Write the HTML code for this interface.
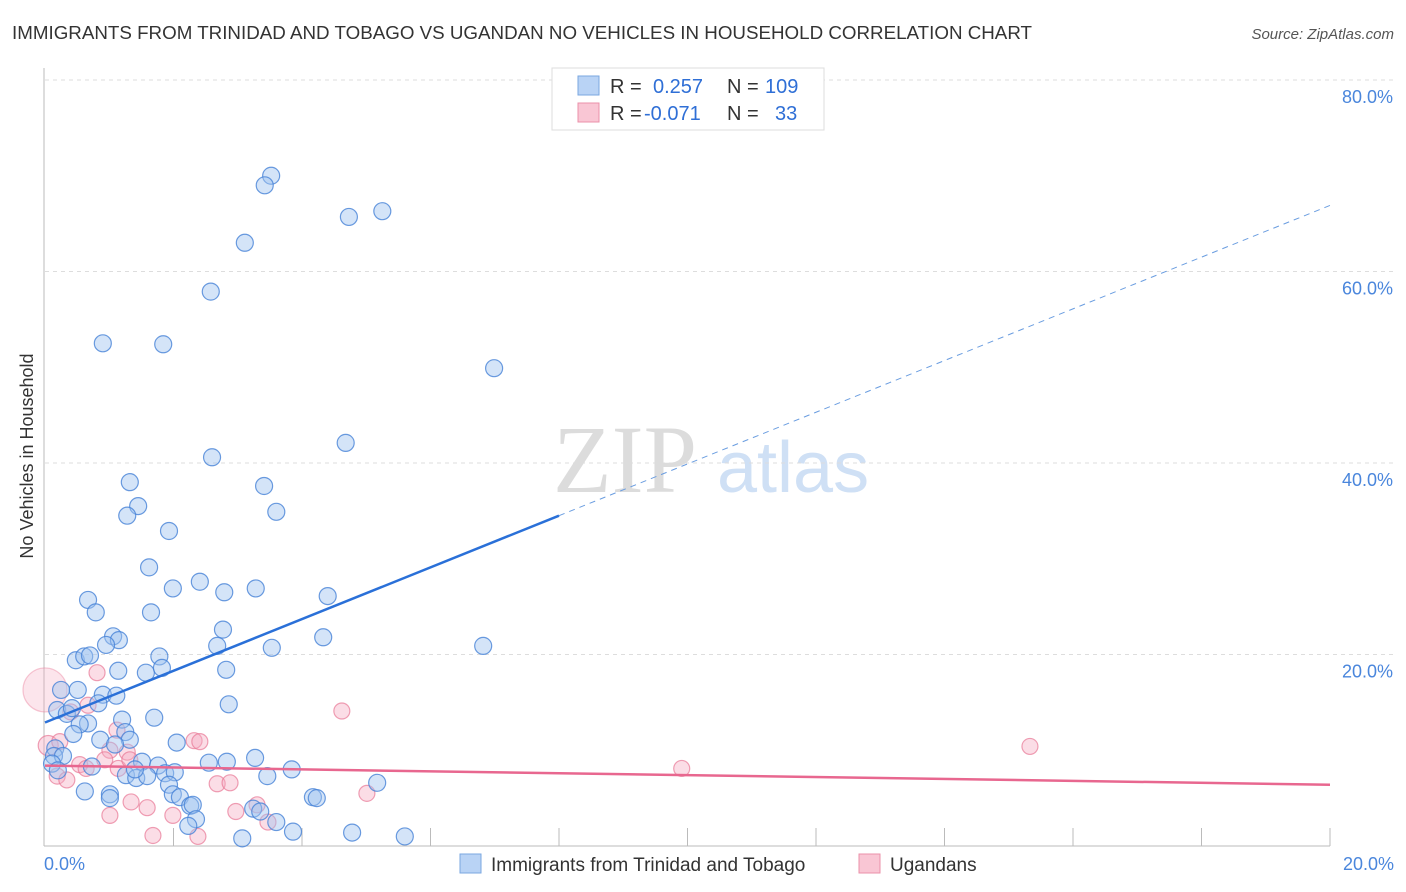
<!DOCTYPE html>
<html><head><meta charset="utf-8">
<style>
body{margin:0;background:#fff;font-family:"Liberation Sans",sans-serif;}
svg{display:block}
</style></head>
<body>
<svg id="chart" width="1406" height="892" viewBox="0 0 1406 892">
<text x="12" y="39" font-size="18" fill="#333" textLength="1020" lengthAdjust="spacingAndGlyphs">IMMIGRANTS FROM TRINIDAD AND TOBAGO VS UGANDAN NO VEHICLES IN HOUSEHOLD CORRELATION CHART</text>
<text x="1394" y="39" font-size="15" fill="#555" font-style="italic" text-anchor="end">Source: ZipAtlas.com</text>
<text transform="translate(33,456) rotate(-90)" font-size="18" fill="#333" text-anchor="middle">No Vehicles in Household</text>
<g>
<text x="553" y="492" font-size="96" font-family="Liberation Serif,serif" fill="#dcdcdc">ZIP</text>
<text x="717" y="492" font-size="72" fill="#cfe0f5">atlas</text>
</g>
<g id="grid"></g>
<g id="axes"></g>
<g id="pts"></g>
<g id="lines"></g>
<g>
<rect x="552" y="68" width="272" height="62" fill="#fff" stroke="#ddd"/>
<rect x="578" y="76" width="21" height="19" fill="#b9d3f5" stroke="#7aa7e0"/>
<text x="610" y="93" font-size="20" fill="#333">R =</text>
<text x="653" y="93" font-size="20" fill="#2f6fd6">0.257</text>
<text x="727" y="93" font-size="20" fill="#333">N =</text>
<text x="765" y="93" font-size="20" fill="#2f6fd6">109</text>
<rect x="578" y="103" width="21" height="19" fill="#f9c6d4" stroke="#eb90aa"/>
<text x="610" y="120" font-size="20" fill="#333">R =</text>
<text x="644" y="120" font-size="20" fill="#2f6fd6">-0.071</text>
<text x="727" y="120" font-size="20" fill="#333">N =</text>
<text x="775" y="120" font-size="20" fill="#2f6fd6">33</text>
</g>
<g>
<rect x="460" y="854" width="21" height="19" fill="#b9d3f5" stroke="#7aa7e0"/>
<text x="491" y="871" font-size="19" fill="#333">Immigrants from Trinidad and Tobago</text>
<rect x="859" y="854" width="21" height="19" fill="#f9c6d4" stroke="#eb90aa"/>
<text x="890" y="871" font-size="19" fill="#333">Ugandans</text>
</g>
</svg>
<script>
const yTicks=[20,40,60,80];
const yTickLabels=["20.0%","40.0%","60.0%","80.0%"];
const xTicks=[2,4,6,8,10,12,14,16,18,20];
const blueX=[3.52,3.42,4.73,5.25,3.11,2.58,0.90,1.84,6.99,4.68,2.60,1.32,3.41,1.45,1.28,3.60,1.93,1.62,1.99,2.41,2.79,3.28,4.40,0.67,0.79,1.65,2.77,1.06,1.15,4.33,0.95,2.68,3.53,6.82,1.78,0.48,0.61,0.70,1.57,1.14,1.82,2.82,0.25,0.51,0.90,1.11,0.83,2.86,0.19,0.34,0.42,0.67,1.20,1.70,0.54,0.44,1.25,0.86,1.32,1.09,2.05,0.16,0.14,0.28,0.11,0.20,0.73,2.55,2.83,3.27,3.84,1.51,1.76,1.26,1.42,1.59,1.87,2.02,1.40,3.46,5.17,0.62,1.01,1.01,1.93,1.99,2.10,2.26,2.30,4.17,4.23,2.35,2.23,3.24,3.35,3.60,3.86,4.78,3.07,5.60];
const blueY=[70.0,69.0,65.7,66.3,63.0,57.9,52.5,52.4,49.9,42.1,40.6,38.0,37.6,35.5,34.5,34.9,32.9,29.1,26.9,27.6,26.5,26.9,26.1,25.7,24.4,24.4,22.6,21.9,21.5,21.8,21.0,20.9,20.7,20.9,19.8,19.4,19.8,19.9,18.1,18.3,18.6,18.4,16.3,16.3,15.8,15.7,14.9,14.8,14.2,13.8,14.4,12.8,13.2,13.4,12.7,11.7,11.9,11.1,11.1,10.6,10.8,10.2,9.4,9.4,8.6,7.9,8.3,8.7,8.8,9.2,8.0,8.8,8.4,7.4,7.1,7.3,7.6,7.7,8.0,7.3,6.6,5.7,5.4,5.0,6.4,5.4,5.1,4.2,4.3,5.1,5.0,2.8,2.1,3.9,3.6,2.5,1.5,1.4,0.8,1.0];
const pinkX=[0.00,0.81,0.67,0.40,4.62,1.12,1.01,1.28,2.32,2.41,0.05,15.33,0.54,0.64,0.93,1.14,1.32,0.19,0.34,9.91,2.68,2.88,1.34,1.59,1.01,1.99,2.97,3.30,3.47,5.01,1.68,2.38,0.23];
const pinkY=[16.3,18.1,14.7,14.0,14.1,12.1,10.0,9.8,11.0,10.9,10.5,10.4,8.5,8.1,9.0,8.1,9.0,7.3,6.9,8.1,6.5,6.6,4.6,4.0,3.2,3.2,3.6,4.3,2.5,5.5,1.1,1.0,10.9];
const pinkR=[22,8,8,8,8,8,8,8,8,8,10,8,8,8,8,8,8,8,8,8,8,8,8,8,8,8,8,8,8,8,8,8,8];
const blueTrend=[12.9,66.9];
const blueSolidEnd=8.0;
const pinkTrend=[8.4,6.4];

const X0=45,X1=1330,Y0=846,Y80=80;
const sx=v=>X0+(X1-X0)*v/20;
const sy=v=>Y0-(Y0-Y80)*v/80;
const NS="http://www.w3.org/2000/svg";
function mk(tag,attrs,parent){const e=document.createElementNS(NS,tag);for(const k in attrs)e.setAttribute(k,attrs[k]);parent.appendChild(e);return e;}
const grid=document.getElementById('grid'),axes=document.getElementById('axes'),pts=document.getElementById('pts'),lines=document.getElementById('lines');
yTicks.forEach((t,i)=>{
  const l=mk('line',{x1:X0,x2:1394,y1:sy(t),y2:sy(t),stroke:'#ddd','stroke-dasharray':'4,4'},grid);
  
  
  const tx=mk('text',{x:1393,y:sy(t)+23,'font-size':18,fill:'#4a86dc','text-anchor':'end'},grid);
  tx.textContent=yTickLabels[i];
  
  
});
const ax=mk('line',{x1:44,x2:44,y1:68,y2:Y0,stroke:'#bbb'},axes);


const bx=mk('line',{x1:44,x2:X1,y1:Y0,y2:Y0,stroke:'#bbb'},axes);


xTicks.forEach(t=>{
  const l=mk('line',{x1:sx(t),x2:sx(t),y1:828,y2:Y0,stroke:'#bbb'},axes);
  
  
});
const xl0=mk('text',{x:44,y:870,'font-size':18,fill:'#4a86dc'},axes);xl0.textContent='0.0%';


const xl1=mk('text',{x:1394,y:870,'font-size':18,fill:'#4a86dc','text-anchor':'end'},axes);xl1.textContent='20.0%';


pinkX.forEach((x,i)=>{
  const big=pinkR[i]>15;
  const c=mk('circle',{cx:sx(x),cy:sy(pinkY[i]),r:pinkR[i],fill:big?'rgba(246,170,192,0.3)':'rgba(246,170,192,0.4)',stroke:big?'rgba(232,120,150,0.4)':'rgba(232,120,150,0.7)','stroke-width':1.2},pts);
  
  
});
blueX.forEach((x,i)=>{
  const c=mk('circle',{cx:sx(x),cy:sy(blueY[i]),r:8.5,fill:'rgba(160,196,240,0.45)',stroke:'rgba(70,130,215,0.8)','stroke-width':1.2},pts);
  
  
});
const by=x=>blueTrend[0]+(blueTrend[1]-blueTrend[0])*x/20;
const b1=mk('line',{x1:sx(0),y1:sy(by(0)),x2:sx(blueSolidEnd),y2:sy(by(blueSolidEnd)),stroke:'#2a70d8','stroke-width':2.5},lines);


const b2=mk('line',{x1:sx(blueSolidEnd),y1:sy(by(blueSolidEnd)),x2:sx(20),y2:sy(by(20)),stroke:'#6a9de0','stroke-width':1,'stroke-dasharray':'6,5'},lines);


const p1=mk('line',{x1:sx(0),y1:sy(pinkTrend[0]),x2:sx(20),y2:sy(pinkTrend[1]),stroke:'#e8678f','stroke-width':2.5},lines);


</script>
</body></html>
